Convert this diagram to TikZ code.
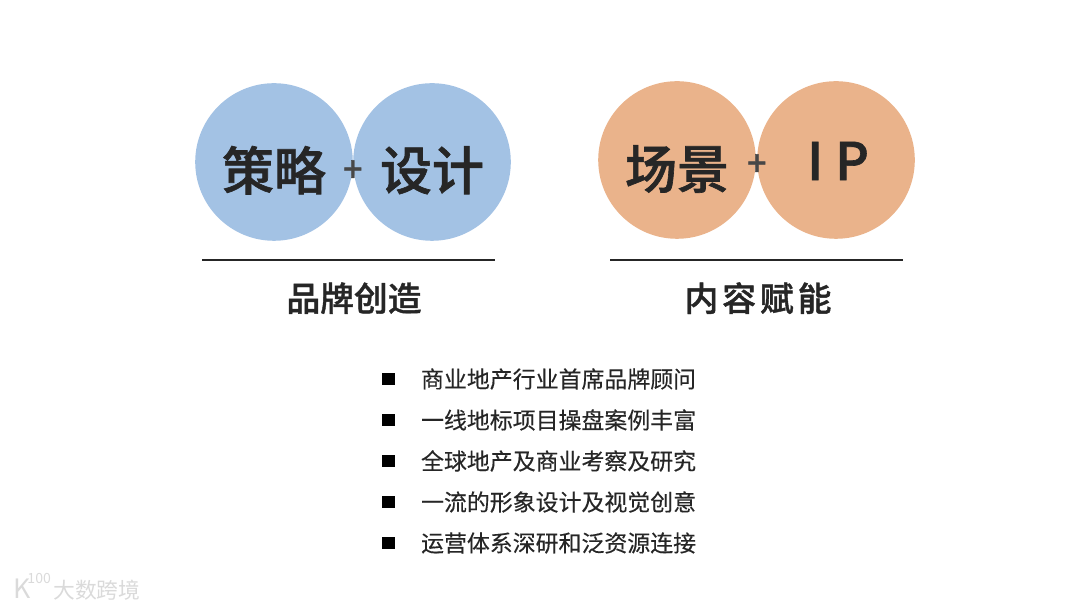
\documentclass[tikz,border=0pt]{standalone}
\usepackage{fontspec}
\setmainfont{Noto Sans CJK SC}[BoldFont={Noto Sans CJK SC Medium},BoldFeatures={FakeBold=1.2}]
\newfontfamily\listfont{Noto Sans CJK SC}[FakeBold=0.3]
\definecolor{inkdark}{HTML}{262626}
\definecolor{blueball}{HTML}{A3C2E4}
\definecolor{orangeball}{HTML}{EAB38B}
\definecolor{markgray}{HTML}{DADADA}
\begin{document}
\begin{tikzpicture}[
    ball/.style={circle, minimum size=3.94cm, inner sep=0pt},
    word/.style={font=\fontsize{37}{37}\selectfont\bfseries, text=inkdark, inner sep=0pt},
    plus/.style={font=\fontsize{24}{24}\selectfont\bfseries, text=inkdark!85, inner sep=0pt},
    rule/.style={draw=inkdark, line width=1.1pt},
    caption/.style={font=\fontsize{24}{24}\selectfont\bfseries, text=inkdark, inner sep=0pt},
    bullet/.style={rectangle, fill=black, minimum size=0.32cm, inner sep=0pt},
    item/.style={font=\fontsize{16.3}{16}\selectfont\listfont, text=inkdark, inner sep=0pt, anchor=west},
]
    \useasboundingbox (0, 0) rectangle (27, 15.225);

    % Left pair
    \node[ball, fill=blueball] (ceball) at (6.85, 11.175) {};
    \node[ball, fill=blueball] (sheball) at (10.8, 11.175) {};
    \node[word] (ce) at (6.85, 10.97) {策略};
    \node[word] (she) at (10.8, 10.97) {设计};
    \node[plus] (plusa) at (8.82, 10.95) {+};
    \coordinate (rulea) at (5.05, 8.73);
    \coordinate (ruleb) at (12.38, 8.73);
    \draw[rule] (rulea) -- (ruleb);
    \node[caption] (brand) at (8.85, 7.77) {品牌创造};

    % Right pair
    \node[ball, fill=orangeball] (scball) at (16.925, 11.225) {};
    \node[ball, fill=orangeball] (ipball) at (20.9, 11.225) {};
    \node[word] (sc) at (16.925, 11.0) {场景};
    \node[word] (ip) at (20.95, 11.2) {I\hspace{0.3cm}P};
    \node[plus] (plusb) at (18.92, 11.1) {+};
    \coordinate (rulec) at (15.25, 8.73);
    \coordinate (ruled) at (22.58, 8.73);
    \draw[rule] (rulec) -- (ruled);
    \node[caption] (content) at (18.95, 7.77) {内\hspace{0.1cm}容\hspace{0.1cm}赋\hspace{0.1cm}能};

    % List
    \node[bullet] (ba) at (9.72, 5.75) {};
    \node[bullet] (bb) at (9.72, 4.725) {};
    \node[bullet] (bc) at (9.72, 3.7) {};
    \node[bullet] (bd) at (9.72, 2.675) {};
    \node[bullet] (be) at (9.72, 1.65) {};
    \node[item] (ia) at (10.52, 5.75) {商业地产行业首席品牌顾问};
    \node[item] (ib) at (10.52, 4.725) {一线地标项目操盘案例丰富};
    \node[item] (ic) at (10.52, 3.7) {全球地产及商业考察及研究};
    \node[item] (id) at (10.52, 2.675) {一流的形象设计及视觉创意};
    \node[item] (ie) at (10.52, 1.65) {运营体系深研和泛资源连接};

    % Watermark
    \node[font=\fontsize{15.5}{16}\selectfont, text=markgray, inner sep=0pt] (markname) at (2.42, 0.48) {大数跨境};
    \node[font=\fontsize{19}{19}\selectfont, text=markgray, inner sep=0pt] (markk) at (0.55, 0.5) {K};
    \node[font=\fontsize{10}{10}\selectfont, text=markgray, inner sep=0pt] (markn) at (0.98, 0.76) {100};
\end{tikzpicture}
\end{document}
